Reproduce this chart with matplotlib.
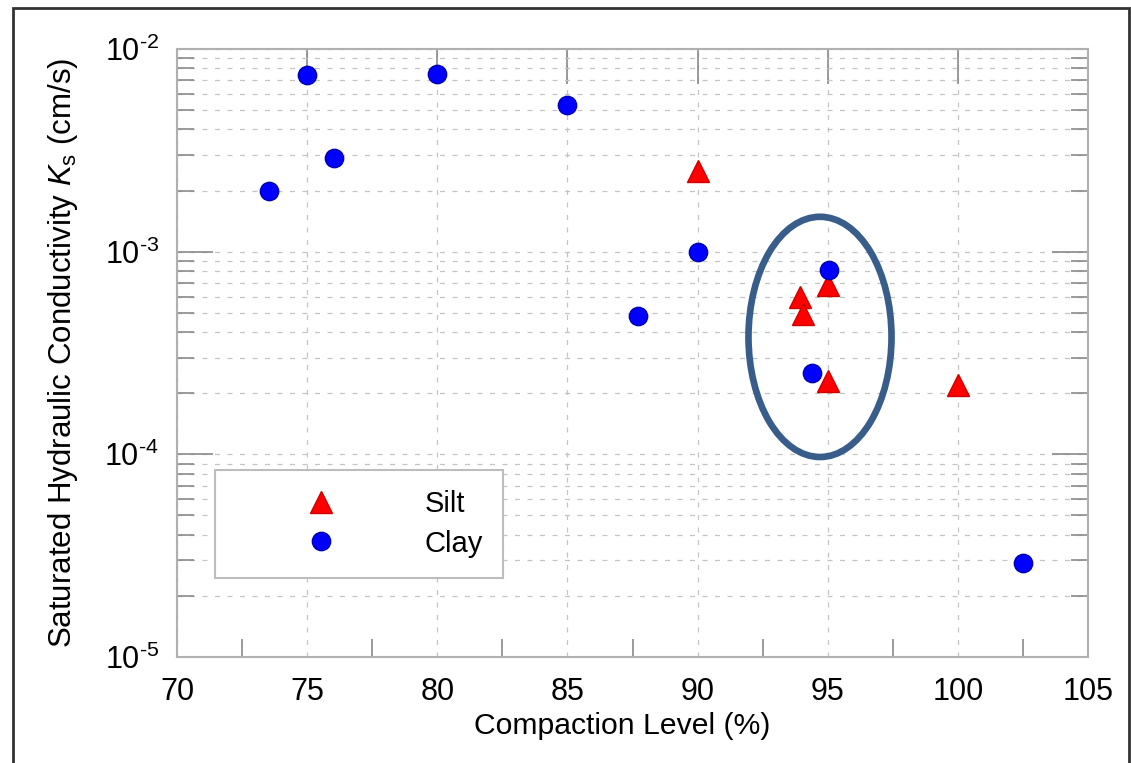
import matplotlib

matplotlib.use("Agg")
import matplotlib.pyplot as plt
from matplotlib.patches import Ellipse, Rectangle
from matplotlib.ticker import FuncFormatter, LogLocator, MultipleLocator, NullFormatter
import numpy as np

# compaction level (%) and saturated hydraulic conductivity (cm/s)
silt_x = [90.0, 93.95, 94.05, 95.0, 95.0, 100.0]
silt_ks = [2.5e-3, 6.0e-4, 4.9e-4, 6.8e-4, 2.3e-4, 2.2e-4]

clay_x = [73.55, 75.0, 76.05, 80.0, 85.0, 87.7, 90.0, 95.05, 94.4, 102.5]
clay_ks = [2.0e-3, 7.4e-3, 2.9e-3, 7.5e-3, 5.3e-3, 4.8e-4, 9.9e-4, 8.1e-4, 2.53e-4, 2.9e-5]

x_ticks = [70, 75, 80, 85, 90, 95, 100, 105]

plt.rcParams["font.family"] = ["Liberation Sans", "DejaVu Sans"]
plt.rcParams["mathtext.fontset"] = "custom"
plt.rcParams["mathtext.rm"] = "Liberation Sans"
plt.rcParams["mathtext.it"] = "Liberation Sans:italic"
plt.rcParams["mathtext.default"] = "regular"


def decade_label(v, _pos):
    exp = int(round(np.log10(v)))
    sign = r"\text{-}" if exp < 0 else ""
    return rf"$10^{{{sign}{abs(exp)}}}$"


fig = plt.figure(figsize=(11.31, 7.63), dpi=100)
ax = fig.add_axes([0.1565, 0.139, 0.8055, 0.797])

ax.plot(silt_x, silt_ks, linestyle="none", marker="^", markersize=16.5,
        markerfacecolor="#ff0000", markeredgecolor="#d00000", markeredgewidth=1,
        label="Silt", zorder=4)
ax.plot(clay_x, clay_ks, linestyle="none", marker="o", markersize=13.2,
        markerfacecolor="#0000ff", markeredgecolor="#0000b0", markeredgewidth=1,
        label="Clay", zorder=4)

ax.set_yscale("log")
ax.set_xlim(70, 105)
ax.set_ylim(1e-5, 1e-2)
ax.set_xticks(x_ticks)
ax.xaxis.set_minor_locator(MultipleLocator(2.5))
ax.yaxis.set_major_locator(LogLocator(base=10))
ax.yaxis.set_major_formatter(FuncFormatter(decade_label))
ax.yaxis.set_minor_locator(LogLocator(base=10, subs=range(2, 10)))
ax.yaxis.set_minor_formatter(NullFormatter())

grid_kw = dict(color="#c4c4c4", linewidth=0.9, linestyle=(0, (4, 6)))
ax.grid(True, which="both", axis="y", **grid_kw)
ax.grid(True, which="major", axis="x", **grid_kw)
ax.set_axisbelow(True)

tick_color = "#8a8a8a"
ax.tick_params(axis="x", which="major", direction="in", bottom=False, top=True,
               length=25, width=1.2, color=tick_color, labelsize=22, pad=14.5)
ax.tick_params(axis="x", which="minor", direction="in", bottom=True, top=False,
               length=13, width=1.2, color=tick_color)
ax.tick_params(axis="y", which="major", direction="in", left=True, right=True,
               length=26, width=1.2, color=tick_color, labelsize=22, pad=13)
ax.tick_params(axis="y", which="minor", direction="in", left=True, right=True,
               length=12, width=1.2, color=tick_color)
for spine in ax.spines.values():
    spine.set_color("#b0b0b0")
    spine.set_linewidth(1.5)

ax.set_xlabel("Compaction Level (%)", fontsize=21.7)
ax.xaxis.set_label_coords(0.4885, -0.09)
ax.set_ylabel(r"Saturated Hydraulic Conductivity $\mathit{K}_{\mathrm{s}}$ (cm/s)", fontsize=22.5)
ax.yaxis.set_label_coords(-0.106, 0.5)

leg = ax.legend(loc="upper left", bbox_to_anchor=(0.0417, 0.3076), borderaxespad=0,
                fontsize=21, numpoints=1, fancybox=False, framealpha=1,
                borderpad=0.69, handlelength=5.88, handletextpad=0.62, labelspacing=0.4)
leg.get_frame().set_edgecolor("#bdbdbd")
leg.get_frame().set_linewidth(1.5)

# highlight ellipse around the 94-95 % cluster
ax.add_patch(Ellipse((0.7058, 0.5263), 0.157, 0.395, transform=ax.transAxes,
                     fill=False, edgecolor="#385d8a", linewidth=4.8, zorder=5, clip_on=False))

# outer frame of the figure
fig.patches.append(Rectangle((13 / 1131, -0.05), 1116 / 1131, 1 - 8 / 763 + 0.05,
                             transform=fig.transFigure, fill=False,
                             edgecolor="#333333", linewidth=2))

fig.savefig("out.png", dpi=100)
